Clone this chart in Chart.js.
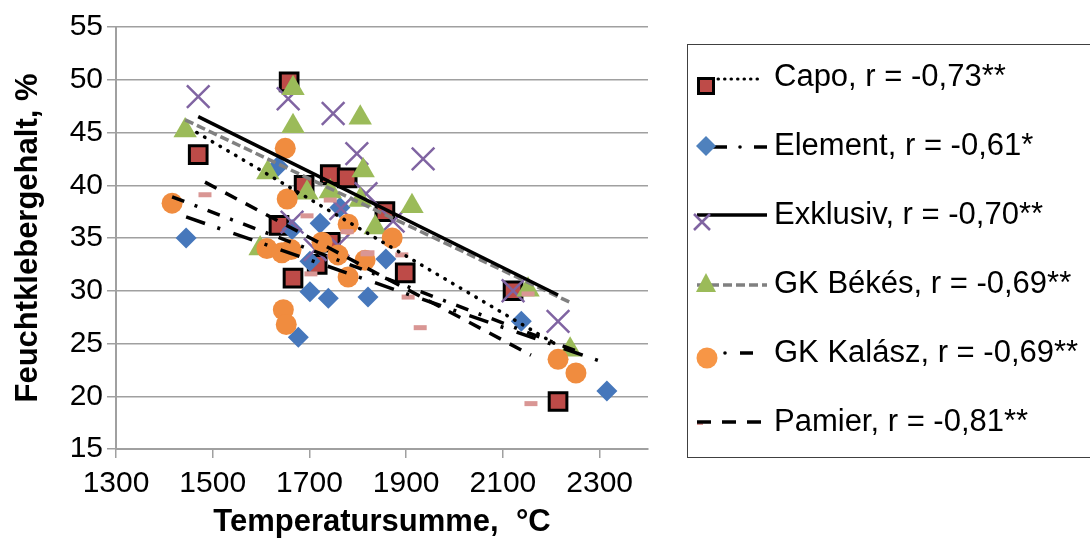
<!DOCTYPE html>
<html>
<head>
<meta charset="utf-8">
<script src="https://cdn.jsdelivr.net/npm/chart.js@4.4.1/dist/chart.umd.min.js"></script>
<style>
  html, body { margin: 0; padding: 0; background: #fff; }
  #wrap { position: relative; width: 1090px; height: 545px; overflow: hidden; font-family: "Liberation Sans", Arial, sans-serif; }
  #box { position: absolute; left: 0; top: 0; width: 1090px; height: 545px; }
  #legendBox { position: absolute; left: 687px; top: 44px; width: 420px; height: 414px; border: 1.5px solid #404040; box-sizing: border-box; }
  .lg { position: absolute; left: 774px; font-size: 31px; line-height: 36px; color: #000; white-space: nowrap; }
  #sym { position: absolute; left: 0; top: 0; }
</style>
</head>
<body>
<div id="wrap">
  <div id="box"><canvas id="chart"></canvas></div>
  <div id="legendBox"></div>
  <svg id="sym" width="1090" height="545">
    <!-- Capo -->
    <line x1="718" y1="79" x2="762" y2="79" stroke="#000" stroke-width="3" stroke-dasharray="0.5 6" stroke-linecap="round"/>
    <rect x="698.5" y="78.5" width="15" height="15" fill="#BE4B48" stroke="#000" stroke-width="3"/>
    <!-- Element -->
    <line x1="706" y1="147" x2="727" y2="147" stroke="#000" stroke-width="3.5"/>
    <circle cx="740" cy="147" r="1.8" fill="#000"/>
    <line x1="754" y1="147" x2="767" y2="147" stroke="#000" stroke-width="3.5"/>
    <polygon points="696,146 706,136 716,146 706,156" fill="#4F81BD"/>
    <!-- Exklusiv -->
    <line x1="697" y1="215" x2="767" y2="215" stroke="#000" stroke-width="3.5"/>
    <path d="M694 214 L710 230 M710 214 L694 230" stroke="#8064A2" stroke-width="2.5"/>
    <!-- GK Bekes -->
    <line x1="697" y1="285" x2="767" y2="285" stroke="#808080" stroke-width="3.5" stroke-dasharray="9 4"/>
    <polygon points="706,273 716,292 696,292" fill="#9BBB59"/>
    <!-- GK Kalasz -->
    <circle cx="725" cy="353" r="1.8" fill="#000"/>
    <line x1="740" y1="353" x2="753" y2="353" stroke="#000" stroke-width="3.5"/>
    <circle cx="707" cy="358" r="10.5" fill="#F79646"/>
    <!-- Pamier -->
    <line x1="697" y1="423" x2="703" y2="423" stroke="#D99694" stroke-width="4"/>
    <line x1="697" y1="422" x2="767" y2="422" stroke="#000" stroke-width="3.5" stroke-dasharray="14 11"/>
  </svg>
  <div class="lg" style="top:58px">Capo, r = -0,73**</div>
  <div class="lg" style="top:127px">Element, r = -0,61*</div>
  <div class="lg" style="top:196px">Exklusiv, r = -0,70**</div>
  <div class="lg" style="top:265px">GK Békés, r = -0,69**</div>
  <div class="lg" style="top:334px">GK Kalász, r = -0,69**</div>
  <div class="lg" style="top:403px">Pamier, r = -0,81**</div>
</div>
<script>
// --- Data ---
const xTicks = [1300, 1500, 1700, 1900, 2100, 2300];
const yTicks = [15, 20, 25, 30, 35, 40, 45, 50, 55];

const capoX = [1658, 1470, 1689, 1743, 1778, 1637, 1743, 1716, 1666, 1856, 1898, 2121, 2214];
const capoY = [49.8, 42.9, 40.0, 41.0, 40.7, 36.2, 34.6, 32.5, 31.2, 37.5, 31.7, 30.0, 19.5];

const elementX = [1445, 1635, 1763, 1722, 1664, 1701, 1701, 1739, 1821, 1677, 1858, 2138, 2315];
const elementY = [35.0, 41.8, 37.9, 36.4, 35.8, 32.8, 29.9, 29.3, 29.4, 25.6, 33.0, 27.1, 20.5];

const exklusivX = [1470, 1656, 1749, 1798, 1935, 1817, 1873, 1765, 1664, 1712, 1759, 2121, 2214];
const exklusivY = [48.4, 48.2, 46.8, 43.0, 42.5, 39.2, 36.6, 37.8, 36.5, 33.9, 34.3, 30.0, 27.1];

const bekesX = [1443, 1666, 1666, 1614, 1805, 1811, 1695, 1743, 1598, 1912, 1836, 2152, 2239, 1805];
const bekesY = [45.2, 49.2, 45.6, 41.2, 46.4, 41.4, 39.3, 39.4, 34.0, 38.0, 36.0, 30.1, 24.4, 38.6];

const kalaszX = [1416, 1650, 1654, 1612, 1643, 1662, 1726, 1759, 1780, 1780, 1815, 1871, 1646, 1652, 2214, 2251];
const kalaszY = [38.3, 43.5, 38.7, 34.0, 33.6, 33.9, 34.6, 33.4, 36.3, 31.3, 32.9, 35.0, 28.2, 26.8, 23.5, 22.2];

const pamierX = [1484, 1743, 1695, 1778, 1703, 1821, 1891, 1904, 1929, 2152, 2158, 1819];
const pamierY = [39.1, 38.6, 37.1, 35.6, 31.6, 33.6, 33.4, 29.4, 26.5, 29.7, 19.3, 33.5];

// trendline end points
const capoTrendX = [1467, 2214],     capoTrendY = [45.0, 24.8];
const elementTrendX = [1445, 2315],  elementTrendY = [37.0, 23.1];
const exklusivTrendX = [1470, 2214], exklusivTrendY = [46.5, 29.6];
const bekesTrendX = [1443, 2239],    bekesTrendY = [46.2, 28.9];
const kalaszTrendX = [1416, 2251],   kalaszTrendY = [38.9, 24.3];
const pamierTrendX = [1484, 2158],   pamierTrendY = [40.3, 23.9];

const pts = (xs, ys) => xs.map((x, i) => ({ x: x, y: ys[i] }));
const FONT = '"Liberation Sans", Arial, sans-serif';

function trend(xs, ys, color, dash, cap) {
    return {
        data: pts(xs, ys), showLine: true, pointRadius: 0,
        borderColor: color, borderWidth: 3.5, borderDash: dash,
        borderCapStyle: cap || 'butt', order: 0
    };
}

const ctx = document.getElementById('chart').getContext('2d');
new Chart(ctx, {
    type: 'scatter',
    data: {
        datasets: [
            trend(capoTrendX, capoTrendY, '#000', [0.5, 8.5], 'round'),
            trend(elementTrendX, elementTrendY, '#000', [20, 13, 3, 14]),
            trend(exklusivTrendX, exklusivTrendY, '#000', []),
            trend(bekesTrendX, bekesTrendY, '#808080', [9, 4]),
            trend(kalaszTrendX, kalaszTrendY, '#000', [13, 11, 3, 11]),
            trend(pamierTrendX, pamierTrendY, '#000', [13, 10]),
            { data: pts(pamierX, pamierY), pointStyle: 'line', pointRadius: 6.5,
              pointBorderColor: '#D99694', pointBorderWidth: 5, order: 1 },
            { data: pts(kalaszX, kalaszY), pointStyle: 'circle', pointRadius: 10.5,
              pointBackgroundColor: '#F08C3F', pointBorderWidth: 0, order: 2 },
            { data: pts(bekesX, bekesY), pointStyle: 'triangle', pointRadius: 13.5,
              pointBackgroundColor: '#9BBB59', pointBorderWidth: 0, order: 3 },
            { data: pts(exklusivX, exklusivY), pointStyle: 'crossRot', pointRadius: 16,
              pointBorderColor: '#8064A2', pointBorderWidth: 2.5, order: 4 },
            { data: pts(elementX, elementY), pointStyle: 'rectRot', pointRadius: 10.5,
              pointBackgroundColor: '#4677BB', pointBorderWidth: 0, order: 5 },
            { data: pts(capoX, capoY), pointStyle: 'rect', pointRadius: 12.5,
              pointBackgroundColor: '#BE4B48', pointBorderColor: '#000', pointBorderWidth: 3, order: 6 }
        ]
    },
    options: {
        responsive: true,
        maintainAspectRatio: false,
        animation: false,
        events: [],
        layout: { padding: { left: 0, right: 442, top: 27, bottom: 0 } },
        plugins: { legend: { display: false }, tooltip: { enabled: false } },
        scales: {
            x: {
                type: 'linear', min: 1300, max: 2400,
                afterBuildTicks: s => { s.ticks = xTicks.map(v => ({ value: v })); },
                afterFit: s => { s.height = 96; },
                grid: { drawOnChartArea: false, drawTicks: true, tickLength: 9, color: '#a0a0a0', lineWidth: 1.5 },
                border: { color: '#a0a0a0', width: 2 },
                ticks: { color: '#000', font: { size: 30, family: FONT }, padding: 8, maxRotation: 0, autoSkip: false,
                         callback: v => String(v) },
                title: { display: true, text: 'Temperatursumme,  °C', color: '#000',
                         font: { size: 31, weight: 'bold', family: FONT }, padding: { top: 0, bottom: 4 } }
            },
            y: {
                type: 'linear', min: 15, max: 55,
                afterBuildTicks: s => { s.ticks = yTicks.map(v => ({ value: v })); },
                afterFit: s => { s.width = 116; },
                grid: { drawTicks: true, tickLength: 9, color: '#a0a0a0', lineWidth: 1.5 },
                border: { color: '#a0a0a0', width: 2 },
                ticks: { color: '#000', font: { size: 30, family: FONT }, padding: 4, callback: v => String(v) },
                title: { display: true, text: 'Feuchtklebergehalt, %', color: '#000',
                         font: { size: 31, weight: 'bold', family: FONT }, padding: { top: 10, bottom: 0 } }
            }
        }
    }
});
</script>
</body>
</html>
